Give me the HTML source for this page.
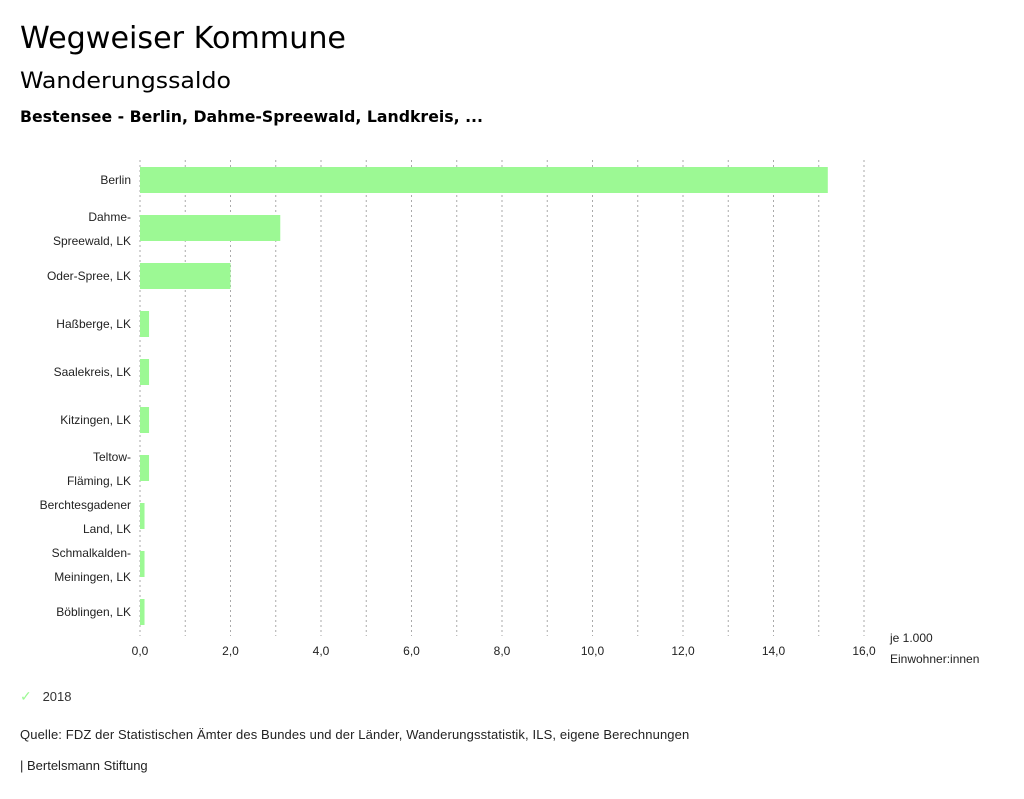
<!DOCTYPE html>
<html><head><meta charset="utf-8"><style>
body{margin:0;width:1024px;height:799px;background:#fff;font-family:"Liberation Sans",sans-serif;color:#000;overflow:hidden}
.t{position:absolute;white-space:nowrap}
</style></head><body>
<svg id="chart" width="1024" height="799" style="position:absolute;left:0;top:0">
<text x="20" y="48" font-size="30" font-family="DejaVu Sans, sans-serif" textLength="326" lengthAdjust="spacingAndGlyphs" fill="#000">Wegweiser Kommune</text>
<text x="20" y="88" font-size="22" font-family="DejaVu Sans, sans-serif" textLength="211" lengthAdjust="spacingAndGlyphs" fill="#000">Wanderungssaldo</text>
<text x="20" y="122" font-size="16" font-weight="bold" font-family="DejaVu Sans, sans-serif" textLength="463" lengthAdjust="spacingAndGlyphs" fill="#000">Bestensee - Berlin, Dahme-Spreewald, Landkreis, ...</text>
</svg>
<div class="t" style="left:20px;top:688px;font-size:13px;color:#333"><span style="color:#9cf994;font-size:14px">✓</span>&nbsp;&nbsp;&nbsp;2018</div>
<div class="t" style="left:20px;top:727px;font-size:13px;color:#222;letter-spacing:0.12px">Quelle: FDZ der Statistischen Ämter des Bundes und der Länder, Wanderungsstatistik, ILS, eigene Berechnungen</div>
<div class="t" style="left:20px;top:758px;font-size:13px;color:#222">| Bertelsmann Stiftung</div>
<script>
const categories=[["Berlin"],["Dahme-","Spreewald, LK"],["Oder-Spree, LK"],["Haßberge, LK"],["Saalekreis, LK"],["Kitzingen, LK"],["Teltow-","Fläming, LK"],["Berchtesgadener","Land, LK"],["Schmalkalden-","Meiningen, LK"],["Böblingen, LK"]];
const values=[15.2,3.1,2.0,0.2,0.2,0.2,0.2,0.1,0.1,0.1];
const tickValues=[0,2,4,6,8,10,12,14,16];
const tickLabels=["0,0","2,0","4,0","6,0","8,0","10,0","12,0","14,0","16,0"];
const svg=document.getElementById('chart');
const NS="http://www.w3.org/2000/svg";
const x=v=>140+v*(724/16);
const y=i=>180+i*48;
function mk(tag,a){const e=document.createElementNS(NS,tag);for(const k in a)e.setAttribute(k,a[k]);svg.appendChild(e);return e;}
for(let g=0;g<=16;g++){
 const l=mk('line',{x1:x(g),x2:x(g),y1:160,y2:636,stroke:'#aaa','stroke-dasharray':'2,3','stroke-width':1});
 
 
}
tickValues.forEach((v,i)=>{
 const t=mk('text',{x:x(v),y:655,'text-anchor':'middle','font-size':12,fill:'#222','font-family':'Liberation Sans, sans-serif'});
 t.textContent=tickLabels[i];
 
 
});
values.forEach((v,i)=>{
 const r=mk('rect',{x:x(0),y:y(i)-13,width:x(v)-x(0),height:26,fill:'#9cf994'});
 
 
 const lines=categories[i];
 lines.forEach((s,j)=>{
  const t=mk('text',{x:131,y:y(i)+4+(lines.length>1?(j===0?-11:13):0),'text-anchor':'end','font-size':12,fill:'#222','font-family':'Liberation Sans, sans-serif'});
  t.textContent=s;
  
  
 });
});
[["je 1.000",642],["Einwohner:innen",663]].forEach(([s,yy])=>{
 const t=mk('text',{x:890,y:yy,'font-size':12,fill:'#222','font-family':'Liberation Sans, sans-serif'});
 t.textContent=s;
 
 
});
</script>
</body></html>
